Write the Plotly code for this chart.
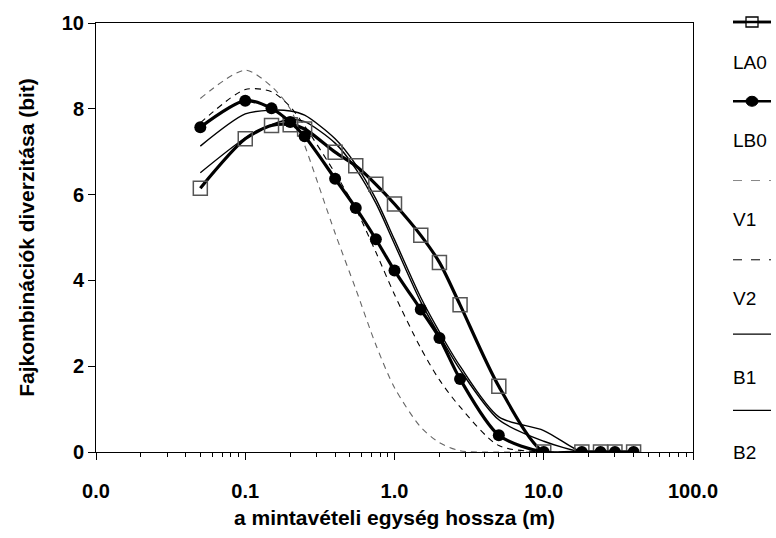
import plotly.graph_objects as go

# ---- data ----
x_len = [0.05, 0.1, 0.15, 0.2, 0.25, 0.4, 0.55, 0.75, 1.0, 1.5, 2.0, 2.75, 5.0, 10.0, 18.0, 24.0, 30.0, 40.0]
LA0 = [6.15, 7.30, 7.61, 7.63, 7.53, 6.99, 6.67, 6.24, 5.78, 5.05, 4.42, 3.43, 1.53, 0, 0, 0, 0, 0]
LB0 = [7.57, 8.19, 8.01, 7.69, 7.36, 6.37, 5.69, 4.96, 4.23, 3.32, 2.66, 1.70, 0.39, 0, 0, 0, 0, 0]
V1 = [8.24, 8.90, 8.52, 8.00, 7.15, 5.10, 3.80, 2.50, 1.50, 0.58, 0.22, 0.03, 0, 0, 0, 0, 0, 0]
V2 = [7.67, 8.45, 8.40, 8.05, 7.60, 6.50, 5.67, 4.66, 3.67, 2.42, 1.68, 1.05, 0.15, 0, 0, 0, 0, 0]
B1 = [7.13, 7.88, 7.97, 7.95, 7.85, 7.30, 6.70, 5.90, 4.95, 3.60, 2.80, 2.00, 0.82, 0.50, 0, 0, 0, 0]
B2 = [6.51, 7.32, 7.63, 7.75, 7.70, 7.20, 6.60, 5.80, 4.85, 3.50, 2.72, 1.92, 0.75, 0.25, 0, 0, 0, 0]

x_tickvals = [0.01, 0.1, 1, 10, 100]
x_ticktext = ["0.0", "0.1", "1.0", "10.0", "100.0"]
series_names = ["LA0", "LB0", "V1", "V2", "B1", "B2"]

FONT = "Liberation Sans"

fig = go.Figure()

def add_line(y, color, width, dash="solid", name=""):
    fig.add_trace(go.Scatter(x=x_len, y=y, mode="lines", name=name,
                             line=dict(color=color, width=width, dash=dash, shape="spline", smoothing=0.8),
                             showlegend=False, hoverinfo="skip"))

add_line(V1, "#666666", 1.1, "6px,5px", "V1")
add_line(V2, "#000000", 1.1, "6px,5px", "V2")
add_line(B1, "#000000", 1.4, "solid", "B1")
add_line(B2, "#000000", 1.4, "solid", "B2")

fig.add_trace(go.Scatter(x=x_len, y=LA0, mode="lines+markers", name="LA0",
                         line=dict(color="black", width=3.2, shape="spline", smoothing=0.8),
                         marker=dict(symbol="square-open", size=14, color="#555555", line=dict(width=1.5)),
                         showlegend=False))
fig.add_trace(go.Scatter(x=x_len, y=LB0, mode="lines+markers", name="LB0",
                         line=dict(color="black", width=3.2, shape="spline", smoothing=0.8),
                         marker=dict(symbol="circle", size=12, color="black"),
                         showlegend=False))

# ---- manual legend (symbol above label) ----
L, R = 96, 693
T, B = 19, 452
def px2x(p):
    return (p - L) / (R - L)
def py2y(p):
    return (B - p) / (B - T)

sym_y = [18, 98, 178, 258, 333, 410]
lab_y = [59, 138, 217, 297, 377, 453]
styles = [("black", 2.5, "solid"), ("black", 2.5, "solid"), ("#888888", 1, "dash"),
          ("black", 1, "dash"), ("black", 1.3, "solid"), ("black", 1.3, "solid")]
shapes = []
annotations = []
for i, nm in enumerate(series_names):
    c, w, d = styles[i]
    yy = py2y(sym_y[i])
    shapes.append(dict(type="line", xref="paper", yref="paper", x0=px2x(733), x1=px2x(771), y0=yy, y1=yy,
                       line=dict(color=c, width=w, dash=d)))
    annotations.append(dict(text=nm, xref="paper", yref="paper", x=px2x(731), y=py2y(lab_y[i]),
                            xanchor="left", yanchor="middle", showarrow=False,
                            font=dict(family=FONT, size=19, color="black")))
# LA0 square marker
shapes.append(dict(type="rect", xref="paper", yref="paper", xsizemode="pixel", ysizemode="pixel",
                   xanchor=px2x(752), yanchor=py2y(sym_y[0]), x0=-6, x1=6, y0=-5, y1=5,
                   line=dict(color="black", width=1.3), fillcolor="white"))
shapes.append(dict(type="line", xref="paper", yref="paper", x0=px2x(733), x1=px2x(771), y0=py2y(sym_y[0]), y1=py2y(sym_y[0]),
                   line=dict(color="black", width=2.5)))
# LB0 circle marker
shapes.append(dict(type="circle", xref="paper", yref="paper", xsizemode="pixel", ysizemode="pixel",
                   xanchor=px2x(752), yanchor=py2y(sym_y[1]), x0=-6, x1=6, y0=-5, y1=5,
                   line=dict(color="black", width=1), fillcolor="black"))

minor_vals = [k * 10 ** e for e in range(-2, 2) for k in range(2, 10)]

fig.update_layout(
    width=776, height=538,
    margin=dict(l=L, r=776 - R, t=T, b=538 - B),
    paper_bgcolor="white", plot_bgcolor="white",
    font=dict(family=FONT, color="black"),
    shapes=shapes, annotations=annotations,
    xaxis=dict(type="log", range=[-2, 2], tickvals=x_tickvals, ticktext=x_ticktext,
               ticks="outside", ticklen=7, tickwidth=1, tickcolor="black",
               showline=True, linecolor="black", linewidth=1, mirror=True,
               showgrid=False, zeroline=False,
               tickfont=dict(family=FONT, size=20, weight="bold"),
               ticklabelstandoff=14,
               minor=dict(tickvals=minor_vals, ticks="outside", ticklen=4, tickcolor="black", showgrid=False),
               title=dict(text="a mintavételi egység hossza (m)", standoff=9,
                          font=dict(family=FONT, size=21, weight="bold"))),
    yaxis=dict(range=[0, 10], tickvals=[0, 2, 4, 6, 8, 10],
               ticks="outside", ticklen=7, tickwidth=1, tickcolor="black",
               showline=True, linecolor="black", linewidth=1, mirror=True,
               showgrid=False, zeroline=False,
               tickfont=dict(family=FONT, size=20, weight="bold"),
               title=dict(text="Fajkombinációk diverzitása (bit)", standoff=21,
                          font=dict(family=FONT, size=21, weight="bold"))),
)

fig.write_html("out.html", config={"displayModeBar": False},
               post_script="document.body.style.margin='0';document.body.style.overflow='hidden';")
